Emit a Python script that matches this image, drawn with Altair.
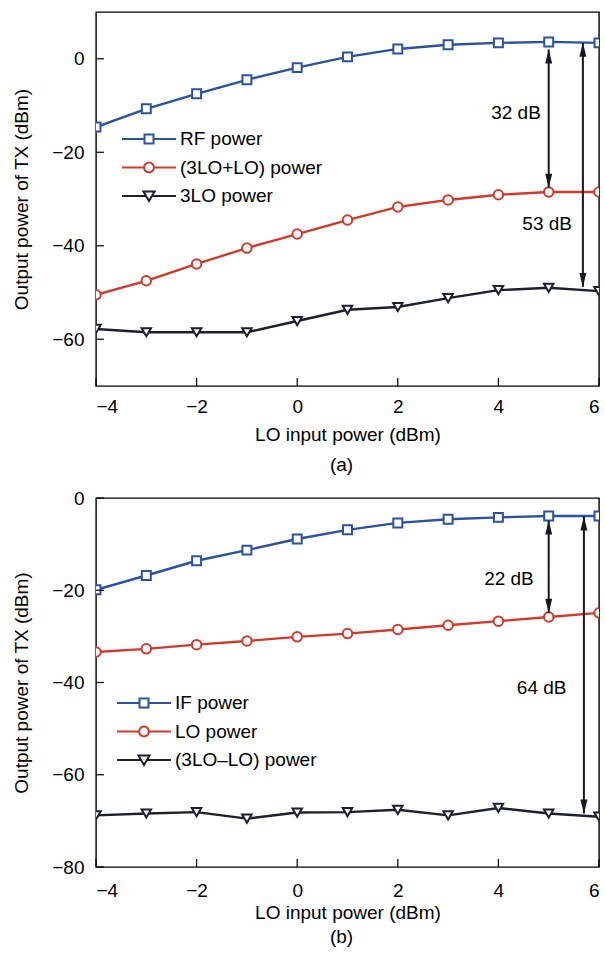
import altair as alt
import pandas as pd

# ---------------- data ----------------
x_vals = [-4, -3, -2, -1, 0, 1, 2, 3, 4, 5, 6]

a_names = ["RF power", "(3LO+LO) power", "3LO power"]
a_rf = [-14.6, -10.7, -7.5, -4.5, -1.9, 0.4, 2.1, 3.0, 3.4, 3.6, 3.4]
a_sum = [-50.5, -47.5, -43.9, -40.5, -37.5, -34.5, -31.7, -30.2, -29.1, -28.5, -28.5]
a_3lo = [-57.8, -58.5, -58.5, -58.5, -56.1, -53.7, -53.1, -51.2, -49.5, -49.0, -49.7]

b_names = ["IF power", "LO power", "(3LO\u2013LO) power"]
b_if = [-19.9, -16.8, -13.6, -11.3, -8.9, -6.9, -5.4, -4.6, -4.2, -3.9, -3.9]
b_lo = [-33.4, -32.7, -31.8, -31.0, -30.1, -29.4, -28.5, -27.6, -26.7, -25.8, -24.9]
b_diff = [-68.8, -68.4, -68.1, -69.5, -68.2, -68.1, -67.6, -68.8, -67.2, -68.4, -69.1]

a_arrow_x = [5.0, 5.68]
a_arrow_top = [2.0, 3.4]
a_arrow_bottom = [-27.6, -48.8]
a_label_x = [4.35, 4.97]
a_label_y = [-11.6, -35.3]
a_labels = ["32 dB", "53 dB"]

b_arrow_x = [5.0, 5.7]
b_arrow_top = [-4.9, -4.0]
b_arrow_bottom = [-24.9, -68.4]
b_label_x = [4.21, 4.86]
b_label_y = [-17.6, -41.3]
b_labels = ["22 dB", "64 dB"]

x_ticks = [-4, -2, 0, 2, 4, 6]
a_y_ticks = [-60, -40, -20, 0]
b_y_ticks = [-80, -60, -40, -20, 0]

# ---------------- styles ----------------
FONT = "Liberation Sans"
FS = 19
COLORS = ["#2b529f", "#d03a2c", "#1b1f2e"]
MARKERS = ["square", "circle", "triangle-down"]
MARKER_SIZES = [80, 90, 90]
LEG_PATHS = [
    "M-3,0H-0.5M0.5,0H3M-0.5,-0.5H0.5V0.5H-0.5Z",
    "M-3,0H-0.55M0.55,0H3M-0.55,0A0.55,0.55,0,1,0,0.55,0A0.55,0.55,0,1,0,-0.55,0Z",
    "M-3,0H-0.32M0.32,0H3M-0.62,-0.5H0.62L0,0.55Z",
]
ARROW_UP = "M0,0L-0.5,2L0.5,2Z"
ARROW_DOWN = "M0,0L-0.5,-2L0.5,-2Z"
W = 503


def panel(names, series, ydom, yticks, arrow_x, arrow_top, arrow_bottom,
          label_x, label_y, labels, height, caption, leg_x, leg_y,
          x_label_pad, x_title_pad, cap_offset):
    rows = []
    for name, vals in zip(names, series):
        for xv, yv in zip(x_vals, vals):
            rows.append({"x": xv, "y": yv, "series": name})
    df = pd.DataFrame(rows)

    xs = alt.Scale(domain=[-4, 6], nice=False, zero=False)
    ys = alt.Scale(domain=ydom, nice=False, zero=False)
    cs = alt.Scale(domain=names, range=COLORS)
    leg = alt.Legend(
        title=None, orient="none", legendX=leg_x, legendY=leg_y,
        labelFont=FONT, labelFontSize=FS, labelColor="black",
        labelOffset=21, symbolSize=324, symbolStrokeWidth=2,
        rowPadding=8.5, padding=0, labelLimit=300)
    C = alt.Color("series:N", scale=cs, legend=leg)

    X = alt.X("x:Q", scale=xs, axis=alt.Axis(values=x_ticks, title="LO input power (dBm)",
                                            labelPadding=x_label_pad, titlePadding=x_title_pad))
    Y = alt.Y("y:Q", scale=ys, axis=alt.Axis(values=yticks, title="Output power of TX (dBm)"))

    base = alt.Chart(df)
    lines = base.mark_line(strokeWidth=2.4, clip=True).encode(
        x=X, y=Y, color=C, detail="series:N"
    )
    layers = [lines]
    for name, shp, sz in zip(names, MARKERS, MARKER_SIZES):
        layers.append(
            base.transform_filter(alt.datum.series == name)
            .mark_point(shape=shp, size=sz, filled=False, fill="white", fillOpacity=1,
                        strokeWidth=2, opacity=1, clip=True)
            .encode(x=alt.X("x:Q", scale=xs), y=alt.Y("y:Q", scale=ys), color=C)
        )
    # legend-only layer (no data drawn)
    legend_layer = base.transform_filter("false").mark_point(filled=False, strokeWidth=2).encode(
        x=alt.X("x:Q", scale=xs), y=alt.Y("y:Q", scale=ys),
        color=C,
        shape=alt.Shape("series:N", scale=alt.Scale(domain=names, range=LEG_PATHS), legend=leg),
    )
    layers.append(legend_layer)

    # inward ticks
    tx = alt.Chart(pd.DataFrame({"t": x_ticks})).mark_rule(color="black", strokeWidth=1.2).encode(
        x=alt.X("t:Q", scale=xs), y=alt.value(height), y2=alt.value(height - 8))
    ty = alt.Chart(pd.DataFrame({"t": yticks})).mark_rule(color="black", strokeWidth=1.2).encode(
        y=alt.Y("t:Q", scale=ys), x=alt.value(0), x2=alt.value(8))
    layers += [tx, ty]

    # arrows
    adf = pd.DataFrame({"ax": arrow_x, "top": arrow_top, "bot": arrow_bottom})
    shaft = alt.Chart(adf).mark_rule(color="#141826", strokeWidth=2).encode(
        x=alt.X("ax:Q", scale=xs), y=alt.Y("top:Q", scale=ys), y2="bot:Q")
    head_up = alt.Chart(adf).mark_point(shape=ARROW_UP, size=196, filled=True,
                                        color="#141826", opacity=1).encode(
        x=alt.X("ax:Q", scale=xs), y=alt.Y("top:Q", scale=ys))
    head_dn = alt.Chart(adf).mark_point(shape=ARROW_DOWN, size=196, filled=True,
                                        color="#141826", opacity=1).encode(
        x=alt.X("ax:Q", scale=xs), y=alt.Y("bot:Q", scale=ys))
    ldf = pd.DataFrame({"lx": label_x, "ly": label_y, "txt": labels})
    txt = alt.Chart(ldf).mark_text(font=FONT, fontSize=FS, color="black").encode(
        x=alt.X("lx:Q", scale=xs), y=alt.Y("ly:Q", scale=ys), text="txt:N")
    layers += [shaft, head_up, head_dn, txt]

    return alt.layer(*layers).properties(
        width=W, height=height,
        title=alt.TitleParams(caption, orient="bottom", anchor="middle", frame="group",
                              font=FONT, fontSize=FS, fontWeight="normal", color="black",
                              offset=cap_offset, dx=-6),
    )


pa = panel(a_names, [a_rf, a_sum, a_3lo], [-70, 10], a_y_ticks, a_arrow_x, a_arrow_top,
           a_arrow_bottom, a_label_x, a_label_y, a_labels, 374, "(a)", 43, 117,
           11, 9, 12)
pb = panel(b_names, [b_if, b_lo, b_diff], [-80, 0], b_y_ticks, b_arrow_x, b_arrow_top,
           b_arrow_bottom, b_label_x, b_label_y, b_labels, 369, "(b)", 38, 195,
           14, 3, 6)

chart = alt.vconcat(pa, pb, spacing=12).resolve_scale(
    color="independent", shape="independent", x="independent", y="independent"
).configure(
    padding={"left": 12, "top": 11, "right": 0, "bottom": 0},
    background="white",
).configure_view(
    stroke="black", strokeWidth=1.4
).configure_axis(
    grid=False, ticks=False, domain=False,
    labelFont=FONT, labelFontSize=FS, labelColor="black",
    titleFont=FONT, titleFontSize=FS, titleFontWeight="normal", titleColor="black",
).configure_axisY(
    titlePadding=20, labelPadding=12,
)

chart.save("out.html", embed_options={"renderer": "svg", "actions": False})
